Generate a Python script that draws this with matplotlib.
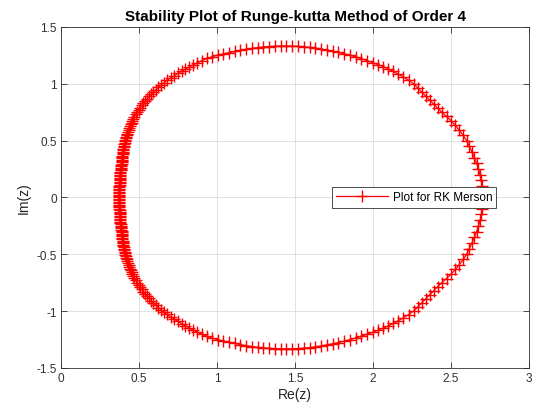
import matplotlib.pyplot as plt
import numpy as np

# points (upper half, going from right to left)
re_upper = [2.705, 2.704, 2.700, 2.694, 2.686, 2.676, 2.664, 2.650, 2.634, 2.617, 2.600,
            2.578, 2.554, 2.528, 2.500, 2.471, 2.440,
            2.414, 2.388, 2.363, 2.337, 2.311, 2.286, 2.260,
            2.228, 2.195, 2.163, 2.130, 2.098, 2.065, 2.033, 2.000,
            1.963, 1.926, 1.889, 1.852, 1.815, 1.778, 1.741, 1.704, 1.667, 1.630,
            1.593, 1.556, 1.519, 1.482, 1.445, 1.408, 1.371, 1.334, 1.297, 1.260,
            1.223, 1.186, 1.149, 1.113, 1.077, 1.041, 1.006, 0.971, 0.937, 0.904, 0.872,
            0.847, 0.822, 0.798, 0.774, 0.750, 0.726, 0.702, 0.677,
            0.659, 0.642, 0.625, 0.608, 0.592,
            0.578, 0.564, 0.551, 0.539, 0.528, 0.517,
            0.507, 0.497, 0.488, 0.479, 0.471, 0.464,
            0.458, 0.452, 0.447, 0.442, 0.437, 0.433, 0.429, 0.425, 0.421,
            0.418, 0.415, 0.413, 0.410, 0.408, 0.406, 0.404, 0.402, 0.400,
            0.399, 0.398, 0.396, 0.395, 0.394, 0.393, 0.392, 0.391, 0.390, 0.389,
            0.388, 0.387, 0.386, 0.385, 0.383,
            0.382, 0.381, 0.381, 0.380, 0.379, 0.379, 0.378, 0.377, 0.377, 0.376,
            0.376, 0.375, 0.375, 0.374, 0.374, 0.374, 0.373, 0.373, 0.373, 0.373]
im_upper = [0.000, 0.050, 0.100, 0.150, 0.200, 0.250, 0.300, 0.350, 0.400, 0.450, 0.500,
            0.545, 0.590, 0.633, 0.674, 0.713, 0.750,
            0.786, 0.822, 0.857, 0.893, 0.929, 0.964, 1.000,
            1.030, 1.058, 1.084, 1.108, 1.130, 1.150, 1.168, 1.185,
            1.203, 1.220, 1.236, 1.251, 1.264, 1.276, 1.287, 1.297, 1.306, 1.314,
            1.320, 1.325, 1.329, 1.331, 1.332, 1.332, 1.330, 1.327, 1.323, 1.318,
            1.311, 1.303, 1.294, 1.284, 1.273, 1.263, 1.252, 1.238, 1.222, 1.204, 1.183,
            1.166, 1.148, 1.130, 1.111, 1.091, 1.071, 1.050, 1.029,
            1.009, 0.989, 0.968, 0.948, 0.927,
            0.907, 0.888, 0.868, 0.848, 0.829, 0.809,
            0.789, 0.769, 0.750, 0.730, 0.710, 0.690,
            0.674, 0.658, 0.642, 0.626, 0.609, 0.593, 0.577, 0.561, 0.545,
            0.532, 0.519, 0.506, 0.493, 0.480, 0.466, 0.453, 0.440, 0.427,
            0.415, 0.403, 0.391, 0.379, 0.367, 0.355, 0.343, 0.332, 0.320, 0.308,
            0.296, 0.285, 0.273, 0.262, 0.250,
            0.238, 0.225, 0.213, 0.200, 0.188, 0.175, 0.163, 0.150, 0.138, 0.125,
            0.113, 0.100, 0.088, 0.075, 0.063, 0.050, 0.038, 0.025, 0.013, 0.000]

# lower half, going from left back to the right
re_lower = [0.373, 0.373, 0.373, 0.374, 0.374, 0.374, 0.375, 0.375, 0.376, 0.376,
            0.377, 0.377, 0.378, 0.379, 0.379, 0.380, 0.381, 0.381, 0.382, 0.383,
            0.385, 0.386, 0.387, 0.388, 0.389, 0.390, 0.391, 0.392, 0.393, 0.394,
            0.395, 0.396, 0.398, 0.399, 0.400,
            0.402, 0.404, 0.406, 0.408, 0.410, 0.413, 0.415, 0.418, 0.421,
            0.425, 0.429, 0.433, 0.437, 0.442, 0.447, 0.452, 0.458, 0.464,
            0.471, 0.479, 0.488, 0.497, 0.507, 0.517,
            0.528, 0.539, 0.551, 0.564, 0.578, 0.592,
            0.608, 0.625, 0.642, 0.659, 0.677,
            0.702, 0.726, 0.750, 0.774, 0.798, 0.822, 0.847, 0.872,
            0.904, 0.937, 0.971, 1.006, 1.041, 1.077, 1.113, 1.149, 1.186, 1.223,
            1.260, 1.297, 1.334, 1.371, 1.408, 1.445, 1.482, 1.519, 1.556, 1.593,
            1.630, 1.667, 1.704, 1.741, 1.778, 1.815, 1.852, 1.889, 1.926, 1.963, 2.000,
            2.033, 2.065, 2.098, 2.130, 2.163, 2.195, 2.228, 2.260,
            2.286, 2.311, 2.337, 2.363, 2.388, 2.414, 2.440,
            2.471, 2.500, 2.528, 2.554, 2.578, 2.600,
            2.617, 2.634, 2.650, 2.664, 2.676, 2.686, 2.694, 2.700, 2.704, 2.705]
im_lower = [-0.013, -0.025, -0.038, -0.050, -0.063, -0.075, -0.088, -0.100, -0.113, -0.125,
            -0.138, -0.150, -0.163, -0.175, -0.188, -0.200, -0.213, -0.225, -0.238, -0.250,
            -0.262, -0.273, -0.285, -0.296, -0.308, -0.320, -0.332, -0.343, -0.355, -0.367,
            -0.379, -0.391, -0.403, -0.415, -0.427,
            -0.440, -0.453, -0.466, -0.480, -0.493, -0.506, -0.519, -0.532, -0.545,
            -0.561, -0.577, -0.593, -0.609, -0.626, -0.642, -0.658, -0.674, -0.690,
            -0.710, -0.730, -0.750, -0.769, -0.789, -0.809,
            -0.829, -0.848, -0.868, -0.888, -0.907, -0.927,
            -0.948, -0.968, -0.989, -1.009, -1.029,
            -1.050, -1.071, -1.091, -1.111, -1.130, -1.148, -1.166, -1.183,
            -1.204, -1.222, -1.238, -1.252, -1.263, -1.273, -1.284, -1.294, -1.303, -1.311,
            -1.318, -1.323, -1.327, -1.330, -1.332, -1.332, -1.331, -1.329, -1.325, -1.320,
            -1.314, -1.306, -1.297, -1.287, -1.276, -1.264, -1.251, -1.236, -1.220, -1.203, -1.185,
            -1.168, -1.150, -1.130, -1.108, -1.084, -1.058, -1.030, -1.000,
            -0.964, -0.929, -0.893, -0.857, -0.822, -0.786, -0.750,
            -0.713, -0.674, -0.633, -0.590, -0.545, -0.500,
            -0.450, -0.400, -0.350, -0.300, -0.250, -0.200, -0.150, -0.100, -0.050, 0.000]

x_ticks = [0, 0.5, 1, 1.5, 2, 2.5, 3]
y_ticks = [-1.5, -1, -0.5, 0, 0.5, 1, 1.5]

plt.rcParams['font.family'] = ['Liberation Sans', 'DejaVu Sans']
plt.rcParams['axes.unicode_minus'] = False

fig = plt.figure(figsize=(5.43, 4.14), dpi=100)
ax = fig.add_axes([0.1123, 0.1087, 0.862, 0.824])

re_z = np.array(re_upper + re_lower)
im_z = np.array(im_upper + im_lower)
ax.plot(re_z, im_z, color='red', lw=0.9, marker='+', markersize=8.5,
        markeredgewidth=1.0, markeredgecolor='red', label='Plot for RK Merson')

ax.set_xlim(0, 3)
ax.set_ylim(-1.5, 1.5)
ax.set_xticks(x_ticks)
ax.set_yticks(y_ticks)
ax.set_xticklabels(['0', '0.5', '1', '1.5', '2', '2.5', '3'])
ax.set_yticklabels(['-1.5', '-1', '-0.5', '0', '0.5', '1', '1.5'])
ax.tick_params(direction='in', top=True, right=True, length=4, width=0.6,
               labelsize=8.5, colors='#303030', pad=3)
ax.grid(True, color='#dcdcdc', lw=0.6)
ax.set_axisbelow(True)
for s in ax.spines.values():
    s.set_color('#303030')
    s.set_linewidth(0.6)

ax.set_xlabel('Re(z)', fontsize=10, color='#262626', labelpad=2)
ax.set_ylabel('Im(z)', fontsize=10, color='#262626', labelpad=4)
ax.set_title('Stability Plot of Runge-kutta Method of Order 4', fontsize=11,
             fontweight='bold', pad=5)

leg = ax.legend(loc='center right', bbox_to_anchor=(0.93, 0.5), fontsize=8.5,
                fancybox=False, framealpha=1, edgecolor='#303030',
                handlelength=4.4, handletextpad=0.4, borderpad=0.35, borderaxespad=0)
leg.get_frame().set_linewidth(0.6)

plt.savefig('out.png', dpi=100)
